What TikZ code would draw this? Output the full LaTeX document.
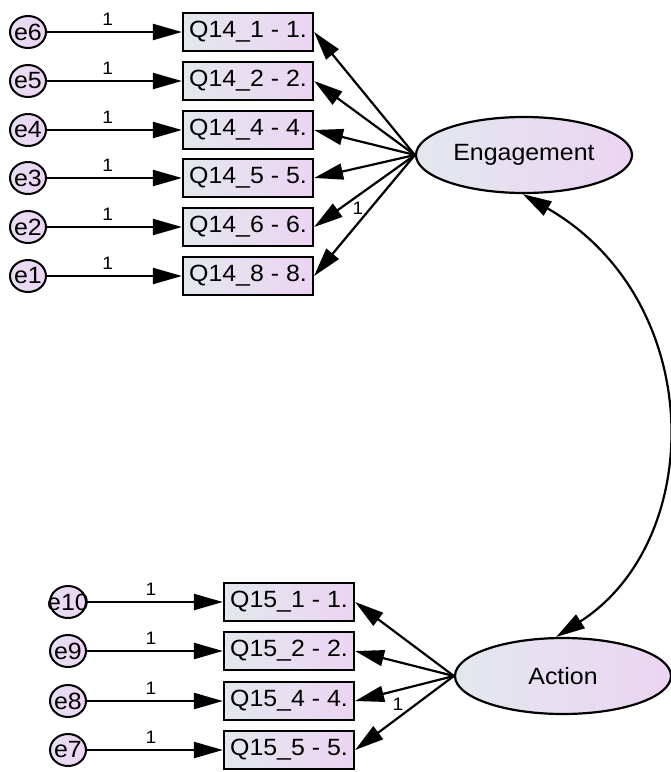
\documentclass[tikz,border=0pt]{standalone}
\usepackage{fontspec}
\setmainfont{Liberation Sans}[FakeStretch=1.06]
\usetikzlibrary{shapes.geometric,arrows.meta}
\definecolor{shL}{RGB}{226,232,238}
\definecolor{shR}{RGB}{236,212,243}
\tikzset{
  obs/.style={draw=black, line width=2.2pt, rectangle, minimum width=130pt, minimum height=38pt, inner sep=1pt, left color=shL, right color=shR, font=\fontsize{23.5}{26}\selectfont},
  err/.style={draw=black, line width=2pt, ellipse, minimum width=36pt, minimum height=32pt, inner sep=0pt, left color=shL!50!shR, right color=shR},
  etxt/.style={inner sep=0pt, font=\fontsize{23.5}{26}\selectfont},
  lat/.style={draw=black, line width=2.2pt, ellipse, minimum width=216pt, minimum height=76pt, inner sep=0pt, left color=shL, right color=shR, font=\fontsize{23.5}{26}\selectfont},
  path/.style={line width=2.2pt, -{Triangle[length=29pt,width=16pt]}},
  cov/.style={line width=2.2pt, {Triangle[length=29pt,width=16pt]}-{Triangle[length=29pt,width=16pt]}},
  one/.style={font=\fontsize{18}{20}\selectfont, inner sep=1pt}
}
\begin{document}
\begin{tikzpicture}[x=1pt,y=-1pt]
\useasboundingbox (0,0) rectangle (671,772);
% top block
\node[obs] (q1) at (248,32) {Q14\_1 - 1.};
\node[obs] (q2) at (248,81) {Q14\_2 - 2.};
\node[obs] (q4) at (248,130) {Q14\_4 - 4.};
\node[obs] (q5) at (248,178) {Q14\_5 - 5.};
\node[obs] (q6) at (248,227) {Q14\_6 - 6.};
\node[obs] (q8) at (248,276) {Q14\_8 - 8.};
\foreach \e/\y in {e6/32,e5/81,e4/130,e3/178,e2/227,e1/276}{
  \node[err] (\e) at (28,\y) {};
  \node[etxt] (t\e) at (28,\y) {\e};
}
\foreach \e/\q in {e6/q1,e5/q2,e4/q4,e3/q5,e2/q6,e1/q8}{
  \draw[path] (\e) -- node[one, above=4pt, pos=0.45]{1} (\q);
}
\node[lat] (eng) at (524,155) {Engagement};
\foreach \q in {q1,q2,q4,q5,q6,q8}{
  \draw[path] (eng.west) -- (\q.east);
}
\node[one] (l1) at (358,208) {1};
% bottom block
\node[obs] (r1) at (289,602) {Q15\_1 - 1.};
\node[obs] (r2) at (289,651) {Q15\_2 - 2.};
\node[obs] (r4) at (289,701) {Q15\_4 - 4.};
\node[obs] (r5) at (289,750) {Q15\_5 - 5.};
\foreach \e/\y in {e10/602,e9/651,e8/701,e7/750}{
  \node[err] (\e) at (68,\y) {};
  \node[etxt] (t\e) at (68,\y) {\e};
}
\foreach \e/\q in {e10/r1,e9/r2,e8/r4,e7/r5}{
  \draw[path] (\e) -- node[one, above=4pt, pos=0.47]{1} (\q);
}
\node[lat] (act) at (563,676) {Action};
\foreach \q in {r1,r2,r4,r5}{
  \draw[path] (act.west) -- (\q.east);
}
\node[one] (l2) at (398,704) {1};
% covariance
\draw[cov] (eng.268) .. controls (707,300) and (707,540) .. (act.100);
\end{tikzpicture}
\end{document}
